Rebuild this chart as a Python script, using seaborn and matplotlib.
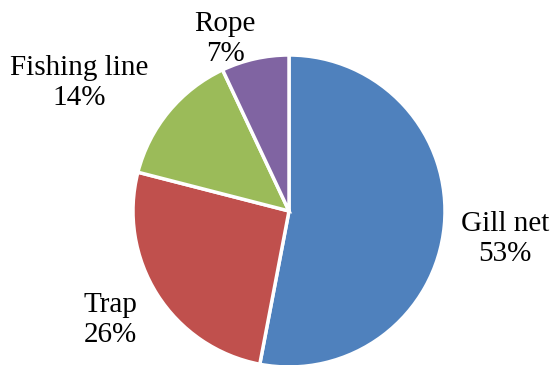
import matplotlib
matplotlib.use("Agg")
import matplotlib.pyplot as plt
import seaborn as sns
import numpy as np

sns.set_theme(style="white")
plt.rcParams["font.family"] = ["Liberation Serif", "DejaVu Serif"]

categories = ["Gill net", "Trap", "Fishing line", "Rope"]
shares = [53, 26, 14, 7]
colors = ["#4F81BD", "#C0504D", "#9BBB59", "#8064A2"]
# label anchor points, in units of the pie radius
label_xy = [(1.385, -0.18), (-1.147, -0.70), (-1.343, 0.82), (-0.41, 1.10)]

W, H = 553, 365
cx, cy, r = 289, 211, 156

fig = plt.figure(figsize=(W / 100, H / 100), dpi=100)
ax = fig.add_axes([(cx - r) / W, (H - cy - r) / H, 2 * r / W, 2 * r / H])
ax.pie(shares, colors=colors, startangle=90, counterclock=False,
       wedgeprops=dict(edgecolor="white", linewidth=2.5))
ax.set_xlim(-1, 1)
ax.set_ylim(-1, 1)
ax.set_axis_off()

for name, val, (lx, ly) in zip(categories, shares, label_xy):
    ax.text(lx, ly, f"{name}\n{val}%", ha="center", va="center",
            fontsize=21, linespacing=1.2, color="black", clip_on=False)

fig.savefig("out.png", dpi=100)
